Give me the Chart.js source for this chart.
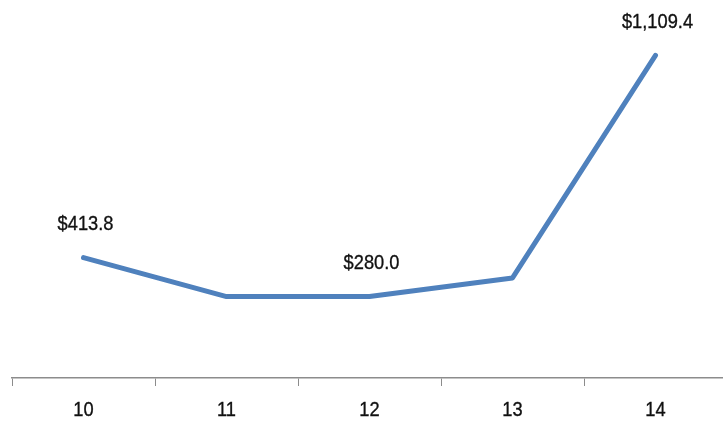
<!DOCTYPE html>
<html>
<head>
<meta charset="utf-8">
<script src="https://cdn.jsdelivr.net/npm/chart.js@4/dist/chart.umd.min.js"></script>
<style>
  html, body { margin: 0; padding: 0; background: #fff; overflow: hidden; }
  #wrap { position: relative; width: 727px; height: 421px; }
</style>
</head>
<body>
<div id="wrap"><canvas id="c"></canvas></div>
<script>
// Periods on the horizontal axis
const categories = ['10', '11', '12', '13', '14'];
// Amounts (in $) for each period
const values = [413.8, 280.0, 280.0, 344.0, 1109.4];
// Value labels shown above selected points (null = no label)
const valueLabels = ['$413.8', null, '$280.0', null, '$1,109.4'];

const FONT = '"Liberation Sans", Arial, sans-serif';
const NARROW = 0.87; // horizontal squeeze for a condensed look

// Draws centred text compressed horizontally
function narrowText(ctx, txt, x, y, size) {
  ctx.save();
  ctx.font = size + 'px ' + FONT;
  ctx.fillStyle = '#111';
  ctx.strokeStyle = '#111';
  ctx.lineWidth = 0.35;
  ctx.textAlign = 'center';
  ctx.textBaseline = 'middle';
  ctx.translate(x, y);
  ctx.scale(NARROW, 1);
  ctx.fillText(txt, 0, 0);
  ctx.strokeText(txt, 0, 0);
  ctx.restore();
}

const textLayer = {
  id: 'textLayer',
  afterDraw(chart) {
    const { ctx } = chart;
    const meta = chart.getDatasetMeta(0);
    meta.data.forEach((pt, i) => {
      const txt = valueLabels[i];
      if (txt) narrowText(ctx, txt, pt.x + 2, pt.y - 33, 21);
    });
    const xs = chart.scales.x;
    categories.forEach((c, i) => {
      narrowText(ctx, c, xs.getPixelForValue(i), xs.top + 32, 21);
    });
  }
};

new Chart(document.getElementById('c'), {
  type: 'line',
  data: {
    labels: categories,
    datasets: [{
      data: values,
      borderColor: '#4F81BD',
      borderWidth: 5,
      pointRadius: 0,
      tension: 0,
      fill: false,
      borderCapStyle: 'round',
      borderJoinStyle: 'round'
    }]
  },
  options: {
    responsive: true,
    maintainAspectRatio: false,
    animation: false,
    layout: { padding: { top: 29, left: 12, right: 0, bottom: 0 } },
    plugins: { legend: { display: false }, tooltip: { enabled: false } },
    scales: {
      x: {
        offset: true,
        afterFit(scale) { scale.height = 43; },
        grid: {
          offset: true,
          drawOnChartArea: false,
          drawTicks: true,
          tickLength: 8,
          color: '#8c8c8c',
          lineWidth: 1
        },
        border: { display: true, color: '#8c8c8c', width: 1.5 },
        ticks: { display: false }
      },
      y: {
        display: false,
        min: 0,
        max: 1200
      }
    }
  },
  plugins: [textLayer]
});
</script>
</body>
</html>
